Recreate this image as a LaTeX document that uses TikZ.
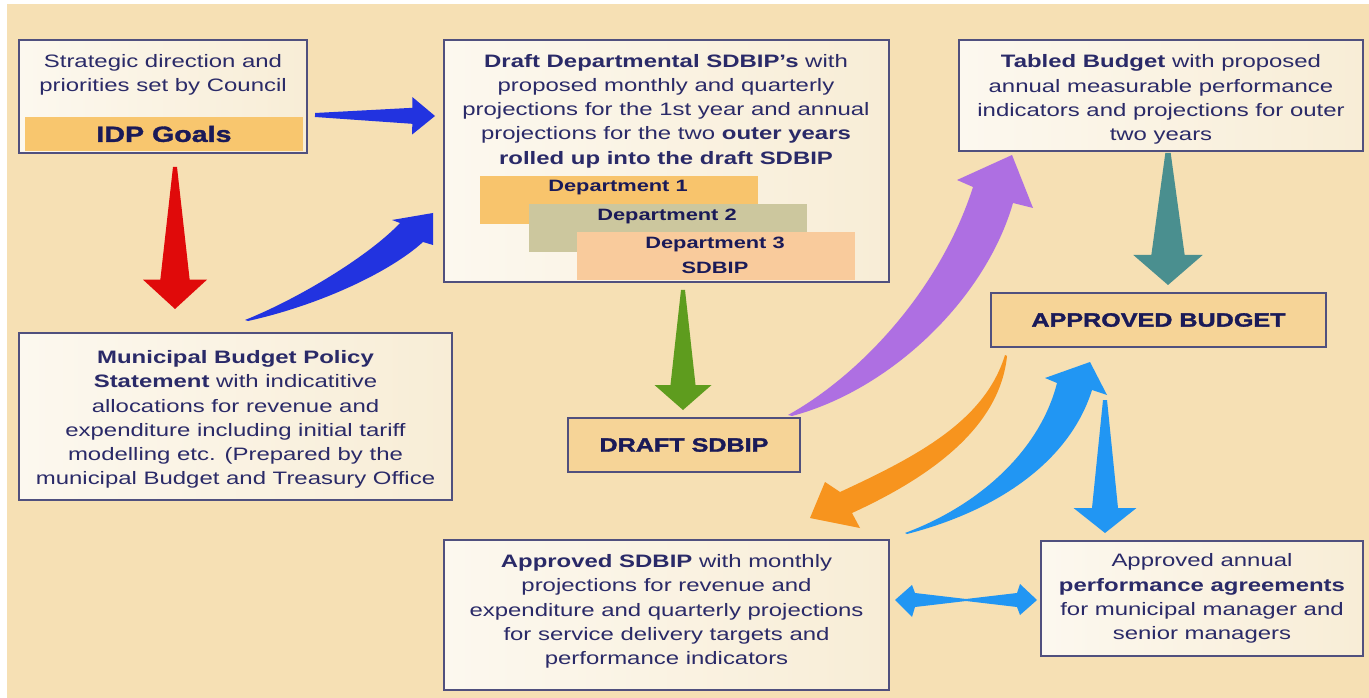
\documentclass[tikz,border=0pt]{standalone}
\usepackage{fontspec}
\setmainfont{Liberation Sans}[FakeStretch=1.33]
\newfontfamily\heavyfont{Liberation Sans}[FakeStretch=1.3, FakeBold=1.6]
\usetikzlibrary{calc}
\definecolor{bg}{HTML}{F6E0B4}
\definecolor{boxL}{HTML}{FCF8EF}
\definecolor{boxR}{HTML}{F8EDD6}
\definecolor{boxline}{HTML}{50507E}
\definecolor{ink}{HTML}{2A2A68}
\definecolor{inkdark}{HTML}{1A1A58}
\definecolor{barorange}{HTML}{F8C66E}
\definecolor{keyfill}{HTML}{F6D497}
\definecolor{deptA}{HTML}{F8C46C}
\definecolor{deptB}{HTML}{CCC79E}
\definecolor{deptC}{HTML}{F9CB9C}
\definecolor{arblue}{HTML}{2233E0}
\definecolor{arred}{HTML}{E00A0A}
\definecolor{argreen}{HTML}{5E9C1E}
\definecolor{arpurple}{HTML}{AE6FE2}
\definecolor{arteal}{HTML}{4A8F8F}
\definecolor{arorange}{HTML}{F7941E}
\definecolor{arlight}{HTML}{2196F3}
\newcommand{\hv}{\fontsize{14.5}{17}\heavyfont\bfseries}
\newcommand{\blockarrow}[7]{%
  \coordinate (hb) at ($(#3)!#7!(#2)$);
  \fill[#1] ($(#2)!#4!90:(#3)$) -- ($(hb)!#5!-90:(#2)$) -- ($(hb)!#6!-90:(#2)$) -- (#3)
    -- ($(hb)!#6!90:(#2)$) -- ($(hb)!#5!90:(#2)$) -- ($(#2)!#4!-90:(#3)$) -- cycle;}
\tikzset{
  box/.style={draw=boxline, line width=1.1pt, left color=boxL, right color=boxR, inner sep=0pt, outer sep=0pt, text=ink, align=center, font=\fontsize{13.5}{18.2}\selectfont},
  keybox/.style={draw=boxline, line width=1.1pt, fill=keyfill, inner sep=0pt, outer sep=0pt, text=inkdark, font=\hv},
  bar/.style={inner sep=0pt, outer sep=0pt},
  txt/.style={text=ink, align=center, inner sep=0pt, font=\fontsize{13.5}{18.2}\selectfont},
  depttxt/.style={text=inkdark, align=center, inner sep=0pt, font=\fontsize{12.3}{18.75}\selectfont\bfseries}
}
\begin{document}
\begin{tikzpicture}[x=0.75pt,y=-0.75pt]
\useasboundingbox (0,0) rectangle (1369,698);
\fill[white] (0,0) rectangle (1369,698);
\fill[bg] (7,4) rectangle (1369,698);

% boxes
\node[box, minimum width=216pt, minimum height=84.75pt] (strat) at (163,96.5) {};
\node[txt] (strattxt) at (163,75) {Strategic direction and\\priorities set by Council};
\node[bar, fill=barorange, minimum width=208.5pt, minimum height=25.5pt, text=inkdark, font=\fontsize{16.5}{18}\heavyfont\bfseries] (idp) at (164,134) {IDP Goals};

\node[box, minimum width=333.75pt, minimum height=181.5pt] (deptbox) at (666.5,161) {};
\node[txt] (depttitle) at (666,111) {\textbf{Draft Departmental SDBIP's} with\\proposed monthly and quarterly\\projections for the 1st year and annual\\projections for the two \textbf{outer years}\\\textbf{rolled up into the draft SDBIP}};
\node[bar, fill=deptA, minimum width=208.5pt, minimum height=36pt] (d1) at (619,200) {};
\node[depttxt] (d1t) at (618,188) {Department 1};
\node[bar, fill=deptB, minimum width=208.5pt, minimum height=36pt] (d2) at (667.5,228) {};
\node[depttxt] (d2t) at (667,216) {Department 2};
\node[bar, fill=deptC, minimum width=208.5pt, minimum height=36pt] (d3) at (716,256) {};
\node[depttxt] (d3t) at (715,255.5) {Department 3\\SDBIP};

\node[box, minimum width=303pt, minimum height=83.25pt] (tabled) at (1161,95.5) {};
\node[txt] (tabledtxt) at (1161,99.5) {\textbf{Tabled Budget} with proposed\\annual measurable performance\\indicators and projections for outer\\two years};
\node[keybox, minimum width=251.25pt, minimum height=40.5pt] (appbud) at (1158.5,320) {APPROVED BUDGET};
\node[box, minimum width=324.75pt, minimum height=125.25pt] (muni) at (235.5,416.5) {};
\node[txt] (munitxt) at (235.5,419.5) {\textbf{Municipal Budget Policy}\\\textbf{Statement} with indicatitive\\allocations for revenue and\\expenditure including initial tariff\\modelling etc. (Prepared by the\\municipal Budget and Treasury Office};
\node[keybox, minimum width=174pt, minimum height=40.5pt] (dsdbip) at (684,445) {DRAFT SDBIP};
\node[box, minimum width=333.75pt, minimum height=112.5pt] (appsdbip) at (666.5,615) {};
\node[txt] (appsdbiptxt) at (666.5,611.5) {\textbf{Approved SDBIP} with monthly\\projections for revenue and\\expenditure and quarterly projections\\for service delivery targets and\\performance indicators};
\node[box, minimum width=241.5pt, minimum height=86.25pt] (appann) at (1202,598.5) {Approved annual\\\textbf{performance agreements}\\for municipal manager and\\senior managers};

% connector end points
\coordinate (redS) at ($(strat.south)+(12,14)$);
\coordinate (redE) at ($(muni.north)+(-60.5,-24)$);
\coordinate (bluS) at ($(strat.east)+(8,18.5)$);
\coordinate (bluE) at ($(deptbox.west)+(-9,-45)$);
\coordinate (bcT) at ($(muni.north)+(9.5,-13)$);
\coordinate (bcP) at ($(deptbox.west)+(-11,52)$);
\coordinate (grS) at ($(deptbox.south)+(16.5,8)$);
\coordinate (grE) at ($(dsdbip.north)+(-1,-8)$);
\coordinate (puT) at ($(dsdbip.north east)+(-12,-3)$);
\coordinate (puP) at ($(tabled.south west)+(53,4)$);
\coordinate (teS) at ($(tabled.south)+(7,2)$);
\coordinate (teE) at ($(appbud.north)+(9.5,-8)$);
\coordinate (orT) at ($(appbud.south west)+(14,8)$);
\coordinate (orP) at ($(appsdbip.north east)+(-79,-22)$);
\coordinate (lcT) at ($(appsdbip.north east)+(16,-7)$);
\coordinate (lcP) at ($(appbud.south west)+(99,15)$);
\coordinate (ldS) at ($(appbud.south)+(-53.5,53)$);
\coordinate (ldE) at ($(appann.north)+(-97,-8)$);
\coordinate (dbL) at ($(appsdbip.east)+(6,-15)$);
\coordinate (dbR) at ($(appann.west)+(-4,1.5)$);

% straight block arrows
\blockarrow{arred}{redS}{redE}{1.5pt}{11pt}{24pt}{22pt}
\blockarrow{arblue}{bluS}{bluE}{1.5pt}{6pt}{14pt}{17pt}
\blockarrow{argreen}{grS}{grE}{1.5pt}{9.4pt}{21.4pt}{18.75pt}
\blockarrow{arteal}{teS}{teE}{2pt}{12.5pt}{26pt}{22.5pt}
\blockarrow{arlight}{ldS}{ldE}{1.5pt}{9.75pt}{23.6pt}{18.75pt}

% curved dark blue
\fill[arblue] (bcT) .. controls ($(bcT)+(55,-22)$) and ($(bcP)+(-63,42)$) .. ($(bcP)+(-33,10)$)
  -- ($(bcP)+(-41,7)$) -- (bcP) -- ($(bcP)+(0,32)$) -- ($(bcP)+(-10,29)$)
  .. controls ($(bcP)+(-43,59)$) and ($(bcT)+(75,-15)$) .. ($(bcT)+(3,1)$) -- cycle;
% purple
\fill[arpurple] (puT) .. controls ($(puT)+(72,-40)$) and ($(puP)+(-72,135)$) .. ($(puP)+(-39,32)$)
  -- ($(puP)+(-55,25)$) -- (puP) -- ($(puP)+(21,53)$) -- ($(puP)+(1,48)$)
  .. controls ($(puP)+(-27,145)$) and ($(puT)+(102,-25)$) .. ($(puT)+(4,1)$) -- cycle;
% orange
\fill[arorange] (orT) .. controls ($(orT)+(-20,65)$) and ($(orP)+(110,-63)$) .. ($(orP)+(30,-26)$)
  -- ($(orP)+(15,-36)$) -- (orP) -- ($(orP)+(50,10)$) -- ($(orP)+(42,-5)$)
  .. controls ($(orP)+(125,-43)$) and ($(orT)+(-5,70)$) .. ($(orT)+(2,1)$) -- cycle;
% light blue curved
\fill[arlight] (lcT) .. controls ($(lcT)+(75,-28)$) and ($(lcP)+(-50,88)$) .. ($(lcP)+(-33,21)$)
  -- ($(lcP)+(-45,16)$) -- (lcP) -- ($(lcP)+(17,33)$) -- ($(lcP)+(2,28)$)
  .. controls ($(lcP)+(-20,98)$) and ($(lcT)+(95,-23)$) .. ($(lcT)+(2,1)$) -- cycle;
% double arrow
\coordinate (dbM) at ($(dbL)!0.5!(dbR)$);
\fill[arlight] (dbL) -- ($(dbL)+(17,-15)$) -- ($(dbL)+(20,-7)$) -- ($(dbM)+(0,-1)$)
  -- ($(dbR)+(-20,-7)$) -- ($(dbR)+(-17,-16)$) -- (dbR) -- ($(dbR)+(-17,15)$)
  -- ($(dbR)+(-20,7)$) -- ($(dbM)+(0,1)$) -- ($(dbL)+(20,7)$) -- ($(dbL)+(17,17)$) -- cycle;
\end{tikzpicture}
\end{document}
